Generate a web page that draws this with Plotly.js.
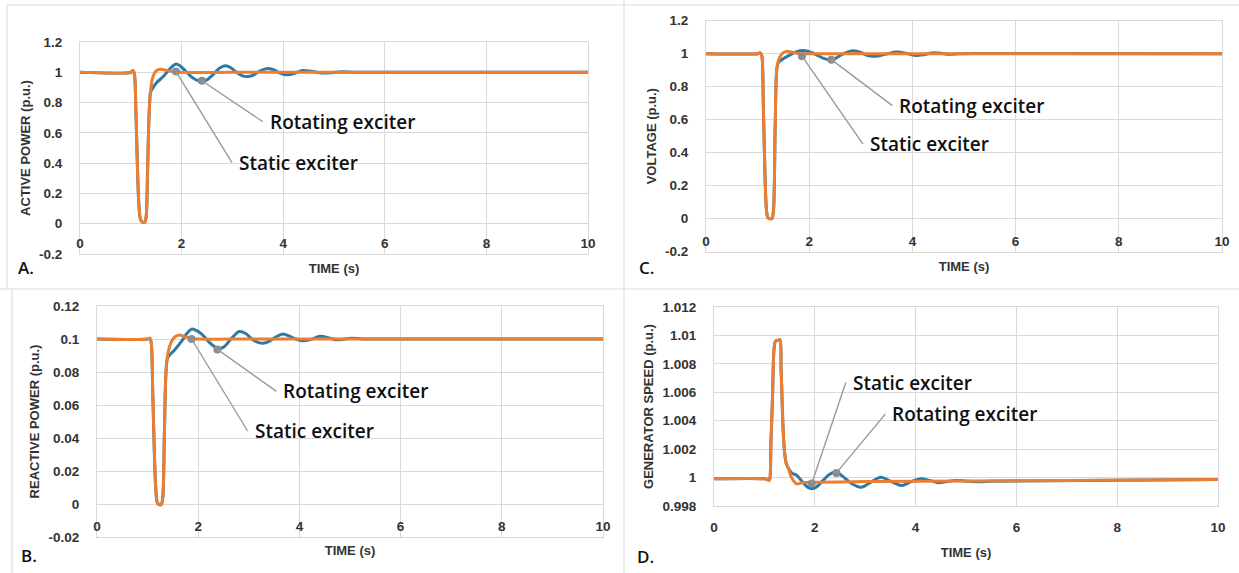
<!DOCTYPE html>
<html>
<head>
<meta charset="utf-8">
<script src="https://cdn.plot.ly/plotly-3.0.1.min.js"></script>
<style>
html,body{margin:0;padding:0;background:#ffffff;}
#chart{width:1239px;height:573px;}
</style>
</head>
<body>
<div id="chart"></div>
<script>
// ---------------- DATA ----------------
// Time tick labels (shared by every panel)
const timeTicks = [0, 2, 4, 6, 8, 10];
const timeTickText = ["0", "2", "4", "6", "8", "10"];

// Panel A - active power (p.u.)
const tA_static = [0, 1.0, 1.04, 1.07, 1.10, 1.13, 1.16, 1.19, 1.23, 1.27, 1.30, 1.33, 1.36, 1.39, 1.42, 1.46, 1.51, 1.58, 1.67, 1.80, 1.95, 3.0, 6.0, 10];
const pA_static = [1, 1, 1.012, 0.99, 0.75, 0.38, 0.12, 0.03, 0.01, 0.01, 0.04, 0.35, 0.72, 0.88, 0.95, 0.99, 1.012, 1.02, 1.015, 1.005, 1.0, 1.0, 1.0, 1.0];
const tA_rot = [0, 1.0, 1.04, 1.07, 1.10, 1.13, 1.16, 1.19, 1.23, 1.27, 1.30, 1.33, 1.36, 1.39, 1.43, 1.51, 1.64, 1.74, 1.82, 1.89, 1.96, 2.05, 2.2, 2.32, 2.4, 2.5, 2.62, 2.75, 2.86, 2.97, 3.08, 3.2, 3.29, 3.4, 3.52, 3.63, 3.72, 3.82, 3.95, 4.07, 4.2, 4.38, 4.55, 4.77, 4.95, 5.15, 5.4, 5.8, 10];
const pA_rot = [1, 1, 1.012, 0.99, 0.75, 0.38, 0.12, 0.03, 0.01, 0.01, 0.04, 0.35, 0.72, 0.87, 0.895, 0.933, 0.972, 1.012, 1.04, 1.054, 1.045, 1.018, 0.968, 0.945, 0.94, 0.95, 0.985, 1.028, 1.043, 1.03, 1.0, 0.976, 0.972, 0.98, 1.005, 1.021, 1.025, 1.015, 0.993, 0.983, 0.99, 1.012, 1.007, 0.995, 0.997, 1.003, 1.0, 1.0, 1.0];
const markA_t = [1.89, 2.40];
const markA_v = [1.005, 0.944];
const yTicksA = [-0.2, 0, 0.2, 0.4, 0.6, 0.8, 1, 1.2];
const yTextA = ["-0.2", "0", "0.2", "0.4", "0.6", "0.8", "1", "1.2"];

// Panel B - reactive power (p.u.)
const tB_static = [0, 1.0, 1.04, 1.07, 1.10, 1.13, 1.16, 1.19, 1.23, 1.27, 1.30, 1.33, 1.36, 1.39, 1.43, 1.48, 1.55, 1.64, 1.75, 1.9, 3.0, 6.0, 10];
const qB_static = [0.1, 0.1, 0.1005, 0.098, 0.07, 0.035, 0.01, 0.001, -0.0004, -0.0004, 0.004, 0.04, 0.078, 0.089, 0.095, 0.099, 0.1015, 0.1025, 0.1012, 0.1002, 0.1, 0.1, 0.1];
const tB_rot = [0, 1.0, 1.04, 1.07, 1.10, 1.13, 1.16, 1.19, 1.23, 1.27, 1.30, 1.33, 1.36, 1.39, 1.44, 1.52, 1.68, 1.78, 1.87, 1.96, 2.07, 2.22, 2.35, 2.42, 2.52, 2.67, 2.81, 2.93, 3.08, 3.18, 3.28, 3.4, 3.55, 3.67, 3.8, 3.93, 4.05, 4.2, 4.41, 4.56, 4.72, 4.87, 5.02, 5.25, 5.6, 10];
const qB_rot = [0.1, 0.1, 0.1005, 0.098, 0.07, 0.035, 0.01, 0.001, -0.0004, -0.0004, 0.004, 0.04, 0.078, 0.088, 0.0905, 0.0929, 0.099, 0.1035, 0.106, 0.1052, 0.103, 0.098, 0.0948, 0.0942, 0.0955, 0.1008, 0.1045, 0.1035, 0.0995, 0.098, 0.0974, 0.0985, 0.1015, 0.103, 0.1018, 0.1, 0.099, 0.0995, 0.1016, 0.1008, 0.0995, 0.0998, 0.1005, 0.1, 0.1, 0.1];
const markB_t = [1.87, 2.38];
const markB_v = [0.1, 0.0937];
const yTicksB = [-0.02, 0, 0.02, 0.04, 0.06, 0.08, 0.1, 0.12];
const yTextB = ["-0.02", "0", "0.02", "0.04", "0.06", "0.08", "0.1", "0.12"];

// Panel C - voltage (p.u.)
const tC_static = [0, 1.0, 1.05, 1.08, 1.11, 1.14, 1.17, 1.20, 1.24, 1.28, 1.31, 1.34, 1.37, 1.40, 1.44, 1.49, 1.55, 1.63, 1.75, 1.9, 3.0, 6.0, 10];
const vC_static = [1, 1, 1.005, 0.99, 0.7, 0.3, 0.06, 0.005, 0.0, 0.0, 0.06, 0.55, 0.9, 0.955, 0.985, 1.005, 1.014, 1.012, 1.003, 1.0, 1.0, 1.0, 1.0];
const tC_rot = [0, 1.0, 1.05, 1.08, 1.11, 1.14, 1.17, 1.20, 1.24, 1.28, 1.31, 1.34, 1.37, 1.40, 1.46, 1.6, 1.72, 1.86, 2.0, 2.16, 2.28, 2.39, 2.5, 2.65, 2.85, 3.0, 3.12, 3.24, 3.36, 3.52, 3.7, 3.87, 4.04, 4.2, 4.38, 4.55, 4.7, 4.9, 5.2, 10];
const vC_rot = [1, 1, 1.005, 0.99, 0.7, 0.3, 0.06, 0.005, 0.0, 0.0, 0.06, 0.55, 0.9, 0.945, 0.962, 0.988, 1.008, 1.02, 1.012, 0.99, 0.972, 0.964, 0.97, 0.998, 1.018, 1.008, 0.99, 0.984, 0.988, 1.0, 1.01, 1.003, 0.99, 0.993, 1.005, 1.003, 0.997, 0.999, 1.001, 1.0];
const markC_t = [1.86, 2.43];
const markC_v = [0.985, 0.964];
const yTicksC = [-0.2, 0, 0.2, 0.4, 0.6, 0.8, 1, 1.2];
const yTextC = ["-0.2", "0", "0.2", "0.4", "0.6", "0.8", "1", "1.2"];

// Panel D - generator speed (p.u.)
const tD_static = [0, 1.0, 1.05, 1.09, 1.11, 1.13, 1.16, 1.19, 1.22, 1.27, 1.31, 1.33, 1.355, 1.375, 1.40, 1.43, 1.47, 1.54, 1.64, 1.74, 1.9, 3.0, 5.0, 7.0, 10];
const wD_static = [0.99992, 0.99992, 0.99988, 0.9998, 0.99995, 1.0025, 1.0055, 1.009, 1.0096, 1.00965, 1.0097, 1.0078, 1.005, 1.0031, 1.0018, 1.00103, 1.0007, 0.99998, 0.99956, 0.99963, 0.99967, 0.99972, 0.99976, 0.9998, 0.99986];
const tD_rot = [0, 1.0, 1.05, 1.09, 1.11, 1.13, 1.16, 1.19, 1.22, 1.27, 1.31, 1.33, 1.355, 1.375, 1.40, 1.43, 1.47, 1.55, 1.64, 1.77, 1.86, 1.94, 2.02, 2.15, 2.28, 2.41, 2.55, 2.72, 2.92, 3.1, 3.31, 3.5, 3.72, 3.9, 4.1, 4.28, 4.45, 4.62, 4.8, 5.0, 5.2, 5.5, 6.0, 10];
const wD_rot = [0.99992, 0.99992, 0.99988, 0.9998, 0.99995, 1.0025, 1.0055, 1.009, 1.0096, 1.00965, 1.0097, 1.0078, 1.005, 1.0031, 1.0018, 1.00103, 1.0007, 1.0003, 1.00016, 0.99963, 0.99932, 0.99921, 0.9993, 0.99975, 1.0002, 1.0004, 1.0001, 0.9996, 0.99932, 0.99965, 1.00002, 0.99975, 0.99944, 0.9997, 0.99991, 0.9998, 0.99963, 0.99972, 0.9998, 0.99975, 0.9997, 0.99974, 0.99976, 0.99986];
const markD_t = [1.94, 2.43];
const markD_v = [0.99958, 1.00033];
const yTicksD = [0.998, 1, 1.002, 1.004, 1.006, 1.008, 1.01, 1.012];
const yTextD = ["0.998", "1", "1.002", "1.004", "1.006", "1.008", "1.01", "1.012"];

const seriesNames = ["Static exciter", "Rotating exciter"];

// ---------------- STYLE ----------------
const W = 1239, H = 573;
const fx = p => p / W;
const fy = p => 1 - p / H;
const BLUE = "#2C7AA5";
const ORANGE = "#ED7D31";
const GRID = "#D9D9D9";
const TXT = "#333333";
const TICKFONT = {family: "Liberation Sans, Arial, sans-serif", size: 13.5, color: TXT, weight: "bold"};
const TITLEFONT = {family: "Liberation Sans, Arial, sans-serif", size: 13, color: TXT, weight: "bold"};
const CALLFONT = {family: "Open Sans, DejaVu Sans, sans-serif", size: 19, color: "#111111", weight: 600};
const LETTERFONT = {family: "Open Sans, DejaVu Sans, sans-serif", size: 17, color: "#111111", weight: 600};

function lineTrace(x, y, xa, ya, color, name) {
  return {x: x, y: y, xaxis: xa, yaxis: ya, mode: "lines", name: name, showlegend: false,
    hoverinfo: "skip", line: {color: color, width: 3, shape: "spline", smoothing: 0.8}};
}
function markTrace(x, y, xa, ya) {
  return {x: x, y: y, xaxis: xa, yaxis: ya, mode: "markers", showlegend: false, hoverinfo: "skip",
    marker: {color: "#8C8C8C", size: 8}};
}
function xAxis(dom, anchor, inside, standoff) {
  return {domain: dom, anchor: anchor, range: [0, 10], tickvals: timeTicks, ticktext: timeTickText,
    showgrid: true, gridcolor: GRID, gridwidth: 1, showline: true, mirror: true, linecolor: GRID, linewidth: 1,
    zeroline: false, ticks: inside ? "" : "outside", ticklen: inside ? 0 : 9, tickcolor: "rgba(0,0,0,0)",
    ticklabelposition: inside ? "inside" : "outside", ticklabeloverflow: "allow",
    ticklabelstandoff: inside ? 3 : 0,
    tickfont: TICKFONT, fixedrange: true,
    title: {text: "TIME (s)", font: TITLEFONT, standoff: standoff}};
}
function yAxis(dom, anchor, range, tv, tt, title) {
  return {domain: dom, anchor: anchor, range: range, tickvals: tv, ticktext: tt,
    showgrid: true, gridcolor: GRID, gridwidth: 1, showline: true, mirror: true, linecolor: GRID, linewidth: 1,
    zeroline: false, ticks: "", ticklabelstandoff: 14, tickfont: TICKFONT, fixedrange: true,
    title: {text: title, font: TITLEFONT, standoff: 5}};
}
function callout(xr, yr, x, y, text, ax, ay) {
  return {xref: xr, yref: yr, x: x, y: y, text: text, showarrow: true, arrowhead: 0, arrowwidth: 1.4,
    arrowcolor: "#9A9A9A", ax: ax, ay: ay, xanchor: "left", yanchor: "middle", borderpad: 6,
    font: CALLFONT};
}
function letter(px, py, text) {
  return {xref: "paper", yref: "paper", x: fx(px), y: fy(py), text: text, showarrow: false,
    xanchor: "center", yanchor: "middle", font: LETTERFONT};
}
function hline(x0, x1, y) {
  return {type: "line", xref: "paper", yref: "paper", x0: fx(x0), x1: fx(x1), y0: fy(y), y1: fy(y),
    line: {color: "#E6E6E6", width: 1.5}};
}
function vline(x, y0, y1) {
  return {type: "line", xref: "paper", yref: "paper", x0: fx(x), x1: fx(x), y0: fy(y0), y1: fy(y1),
    line: {color: "#E6E6E6", width: 1.5}};
}

const data = [
  lineTrace(tA_rot, pA_rot, "x", "y", BLUE, seriesNames[1]),
  lineTrace(tA_static, pA_static, "x", "y", ORANGE, seriesNames[0]),
  markTrace(markA_t, markA_v, "x", "y"),
  lineTrace(tB_rot, qB_rot, "x2", "y2", BLUE, seriesNames[1]),
  lineTrace(tB_static, qB_static, "x2", "y2", ORANGE, seriesNames[0]),
  markTrace(markB_t, markB_v, "x2", "y2"),
  lineTrace(tC_rot, vC_rot, "x3", "y3", BLUE, seriesNames[1]),
  lineTrace(tC_static, vC_static, "x3", "y3", ORANGE, seriesNames[0]),
  markTrace(markC_t, markC_v, "x3", "y3"),
  lineTrace(tD_rot, wD_rot, "x4", "y4", BLUE, seriesNames[1]),
  lineTrace(tD_static, wD_static, "x4", "y4", ORANGE, seriesNames[0]),
  markTrace(markD_t, markD_v, "x4", "y4")
];

const layout = {
  width: W, height: H,
  margin: {l: 0, r: 0, t: 0, b: 0},
  paper_bgcolor: "#ffffff", plot_bgcolor: "#ffffff",
  showlegend: false,
  xaxis: xAxis([fx(80), fx(588)], "y", true, 13),
  yaxis: yAxis([fy(254), fy(42)], "x", [-0.2, 1.2], yTicksA, yTextA, "ACTIVE POWER (p.u.)"),
  xaxis2: xAxis([fx(97), fx(603)], "y2", true, 12),
  yaxis2: yAxis([fy(537), fy(306)], "x2", [-0.02, 0.12], yTicksB, yTextB, "REACTIVE POWER (p.u.)"),
  xaxis3: xAxis([fx(706), fx(1222)], "y3", true, 14),
  yaxis3: yAxis([fy(251.7), fy(20.7)], "x3", [-0.2, 1.2], yTicksC, yTextC, "VOLTAGE (p.u.)"),
  xaxis4: xAxis([fx(714), fx(1218)], "y4", false, 13),
  yaxis4: yAxis([fy(506), fy(307)], "x4", [0.998, 1.012], yTicksD, yTextD, "GENERATOR SPEED (p.u.)"),
  annotations: [
    callout("x", "y", markA_t[0], markA_v[0], seriesNames[0], 56, 91),
    callout("x", "y", markA_t[1], markA_v[1], seriesNames[1], 61, 41),
    callout("x2", "y2", markB_t[0], markB_v[0], seriesNames[0], 56, 92),
    callout("x2", "y2", markB_t[1], markB_v[1], seriesNames[1], 59, 42),
    callout("x3", "y3", markC_t[0], markC_v[0], seriesNames[0], 61, 88),
    callout("x3", "y3", markC_t[1], markC_v[1], seriesNames[1], 61, 46),
    callout("x4", "y4", markD_t[0], markD_v[0], seriesNames[0], 34, -101),
    callout("x4", "y4", markD_t[1], markD_v[1], seriesNames[1], 49, -59),
    letter(26, 267, "A."),
    letter(29, 555, "B."),
    letter(646, 267, "C."),
    letter(645, 556, "D.")
  ],
  shapes: [
    hline(7, 1239, 5),
    hline(0, 1239, 289),
    vline(7, 5, 289),
    vline(12, 289, 573),
    vline(624, 0, 573)
  ]
};

Plotly.newPlot("chart", data, layout, {displayModeBar: false, staticPlot: true});
</script>
</body>
</html>
